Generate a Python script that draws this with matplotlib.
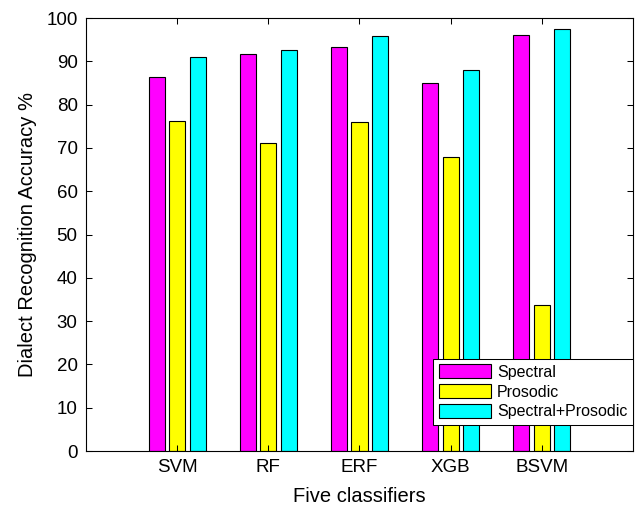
import numpy as np
import matplotlib
matplotlib.use("Agg")
import matplotlib.pyplot as plt

plt.rcParams['font.family'] = ['Liberation Sans', 'DejaVu Sans']

classifiers = ["SVM", "RF", "ERF", "XGB", "BSVM"]
spectral = [86.3, 91.7, 93.4, 85.1, 96.0]
prosodic = [76.3, 71.1, 76.0, 67.9, 33.7]
combined = [90.9, 92.5, 95.8, 88.1, 97.5]

series = [("Spectral", spectral, "#ff00ff"),
          ("Prosodic", prosodic, "#ffff00"),
          ("Spectral+Prosodic", combined, "#00ffff")]

fig = plt.figure(figsize=(6.36, 5.12), dpi=100)
ax = fig.add_axes([0.1352, 0.1191, 0.8601, 0.8457])

x = np.arange(1, len(classifiers) + 1)
offsets = [-0.225, 0.0, 0.225]
for (name, vals, col), off in zip(series, offsets):
    ax.bar(x + off, vals, width=0.176, color=col, edgecolor="black",
           linewidth=0.8, label=name)

ax.set_xlim(0, 6)
ax.set_ylim(0, 100)
ax.set_xticks(x)
ax.set_xticklabels(classifiers)
ax.set_yticks(np.arange(0, 101, 10))
ax.tick_params(direction="in", length=4, width=0.75, labelsize=13.5,
               top=True, right=True, pad=6)
for s in ax.spines.values():
    s.set_linewidth(0.8)

ax.set_xlabel("Five classifiers", fontsize=14.5, labelpad=8)
ax.set_ylabel("Dialect Recognition Accuracy %", fontsize=14.5, labelpad=7)

leg = ax.legend(loc="lower right", bbox_to_anchor=(1.0, 0.06), borderaxespad=0,
                fontsize=11.5, fancybox=False, framealpha=1, edgecolor="black",
                handlelength=3.3, handleheight=0.9, labelspacing=0.3,
                handletextpad=0.35, borderpad=0.35)
leg.get_frame().set_linewidth(0.75)

fig.savefig("out.png", dpi=100)
